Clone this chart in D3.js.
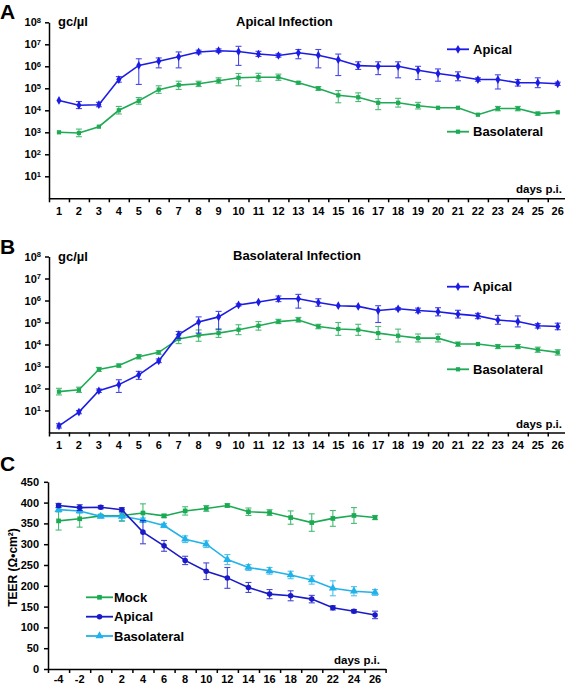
<!DOCTYPE html>
<html><head><meta charset="utf-8">
<script src="https://cdn.jsdelivr.net/npm/d3@7"></script>
<style>
body{margin:0;background:#fff}
svg{display:block}
text{font-family:"Liberation Sans",Arial,sans-serif;font-weight:bold;fill:#000}
</style>
</head><body>
<svg id="chart" width="565" height="685"></svg>
<script>
// ---------- DATA ----------
const daysAB = [1,2,3,4,5,6,7,8,9,10,11,12,13,14,15,16,17,18,19,20,21,22,23,24,25,26];
const logTicks = [1e1,1e2,1e3,1e4,1e5,1e6,1e7,1e8];

// Panel A: apical infection (gc/µl)
const aApical    = [2.8e4,1.7e4,1.8e4,2.5e5,1.1e6,1.7e6,2.7e6,4.5e6,5.1e6,4.7e6,3.6e6,3.1e6,4.1e6,3.2e6,2.0e6,1.07e6,1.0e6,1.0e6,6.6e5,4.7e5,3.5e5,2.5e5,2.5e5,1.8e5,1.8e5,1.6e5];
const aApicalLo  = [2.7e4,1.2e4,1.45e4,1.9e5,1.5e5,8.5e5,8.5e5,3.7e6,4.3e6,1.1e6,2.8e6,2.6e6,2.2e6,8.5e5,3.8e5,7.2e5,4.2e5,3.0e5,2.5e5,2.1e5,2.2e5,2.1e5,9.3e4,1.26e5,1.07e5,1.35e5];
const aApicalHi  = [2.9e4,2.5e4,2.3e4,3.4e5,2.2e6,2.4e6,4.5e6,5.4e6,6.2e6,8.1e6,4.8e6,3.7e6,5.8e6,5.8e6,3.6e6,1.6e6,1.6e6,1.6e6,1.0e6,7.6e5,5.6e5,3.0e5,4.1e5,2.5e5,3.0e5,1.9e5];
const aBaso      = [1.0e3,9.3e2,1.8e3,1.0e4,2.7e4,8.7e4,1.4e5,1.6e5,2.2e5,3.0e5,3.2e5,3.2e5,1.8e5,9.8e4,4.8e4,3.9e4,2.2e4,2.2e4,1.6e4,1.3e4,1.3e4,6.3e3,1.2e4,1.2e4,7.1e3,8.1e3];
const aBasoLo    = [1.0e3,6.3e2,1.65e3,6.8e3,1.9e4,5.9e4,8.9e4,1.2e5,1.7e5,1.3e5,2.1e5,2.3e5,1.55e5,8.1e4,2.2e4,2.5e4,1.07e4,1.4e4,1.15e4,1.3e4,1.3e4,6.3e3,9.5e3,9.5e3,6.0e3,8.1e3];
const aBasoHi    = [1.0e3,1.4e3,2.0e3,1.5e4,3.8e4,1.3e5,2.1e5,2.1e5,3.0e5,4.7e5,4.8e5,4.4e5,2.0e5,1.2e5,7.9e4,6.2e4,3.4e4,3.5e4,2.3e4,1.3e4,1.3e4,6.3e3,1.5e4,1.5e4,8.3e3,8.1e3];

// Panel B: basolateral infection (gc/µl)
const bApical    = [2.0,8.5,79,150,420,1800,2.8e4,1.05e5,1.8e5,6.3e5,8.5e5,1.2e6,1.2e6,8.1e5,5.8e5,5.4e5,3.5e5,4.2e5,3.5e5,3.1e5,2.4e5,2.0e5,1.3e5,1.1e5,7.1e4,6.6e4];
const bApicalLo  = [1.6,7.1,66,66,260,1500,1.9e4,3.3e4,4.7e4,5.6e5,7.8e5,8.9e5,4.5e5,5.5e5,5.2e5,4.9e5,1.0e5,3.7e5,2.8e5,2.0e5,1.6e5,1.5e5,8.3e4,6.3e4,5.6e4,4.7e4];
const bApicalHi  = [2.5,10,95,250,600,2200,3.9e4,1.8e5,3.2e5,7.1e5,9.3e5,1.6e6,1.9e6,1.2e6,6.3e5,5.9e5,5.8e5,4.7e5,4.5e5,4.7e5,3.6e5,2.6e5,2.1e5,2.0e5,8.9e4,9.3e4];
const bBaso      = [72,87,740,1100,2800,4400,1.8e4,2.6e4,3.3e4,4.7e4,7.1e4,1.1e5,1.3e5,6.6e4,5.1e4,4.7e4,3.3e4,2.5e4,1.95e4,1.95e4,1.05e4,1.05e4,8.1e3,8.1e3,5.8e3,4.4e3];
const bBasoLo    = [51,66,600,950,2200,3600,1.1e4,1.4e4,2.1e4,2.8e4,4.5e4,8.9e4,1.05e5,5.2e4,2.6e4,2.6e4,1.7e4,1.3e4,1.3e4,1.3e4,8.3e3,9.8e3,6.5e3,6.5e3,4.4e3,3.3e3];
const bBasoHi    = [102,115,910,1300,3500,5200,2.8e4,4.6e4,5.2e4,7.9e4,1.1e5,1.4e5,1.7e5,8.3e4,1.0e5,8.3e4,6.6e4,5.0e4,3.0e4,3.0e4,1.3e4,1.13e4,1.0e4,1.0e4,7.6e3,5.8e3];

// Panel C: TEER (Ω•cm²)
const daysC      = [-4,-2,0,2,4,6,8,10,12,14,16,18,20,22,24,26];
const teerTicks  = [0,50,100,150,200,250,300,350,400,450];
const cMock      = [356,361,368,369,375,368,380,386,393,378,376,364,352,362,369,364];
const cMockErr   = [22,20,3,14,22,4,10,7,4,9,7,16,21,19,19,5];
const cApical    = [393,388,389,383,329,296,261,235,219,196,180,176,168,147,139,130];
const cApicalErr = [5,7,4,5,28,13,10,20,25,12,11,12,9,5,4,9];
const cBaso      = [383,380,367,367,358,345,312,300,263,244,236,226,214,194,187,184];
const cBasoErr   = [5,5,3,10,5,5,8,8,12,7,8,9,10,18,11,7];

// ---------- DRAWING ----------
const svg = d3.select("#chart");
const BLUE = "#1c1ce4", GREEN = "#1faa55";
const C_MOCK = "#1aab52", C_API = "#1a1ac8", C_BASO = "#22b2ea";

function styleAxis(g, fs) {
  g.selectAll("path,line").attr("stroke","#000").attr("stroke-width",1.5);
  g.selectAll("text").attr("font-family",'"Liberation Sans",Arial,sans-serif')
    .attr("font-weight","bold").attr("font-size",fs).attr("fill","#000");
}

function series(g, x, y, cats, vals, lo, hi, color, symbol, symSize) {
  const line = d3.line().x((d,i)=>x(cats[i])).y(d=>y(d));
  const eb = g.append("g").attr("stroke",color).attr("stroke-width",1.1).attr("opacity",0.8);
  vals.forEach((v,i)=>{
    const cx = x(cats[i]), y1 = y(lo[i]), y2 = y(hi[i]);
    if (Math.abs(y1-y2) < 2) return;
    eb.append("line").attr("x1",cx).attr("x2",cx).attr("y1",y1).attr("y2",y2);
    eb.append("line").attr("x1",cx-3).attr("x2",cx+3).attr("y1",y1).attr("y2",y1);
    eb.append("line").attr("x1",cx-3).attr("x2",cx+3).attr("y1",y2).attr("y2",y2);
  });
  g.append("path").datum(vals).attr("d",line).attr("fill","none")
    .attr("stroke",color).attr("stroke-width",1.6);
  g.append("g").selectAll("path").data(vals).join("path")
    .attr("transform",(d,i)=>`translate(${x(cats[i])},${y(d)})`)
    .attr("d",d3.symbol().type(symbol).size(symSize)).attr("fill",color);
}

function legendItem(g, x1, x2, tx, yy, color, symbol, symSize, label) {
  g.append("line").attr("x1",x1).attr("x2",x2).attr("y1",yy).attr("y2",yy)
    .attr("stroke",color).attr("stroke-width",1.8);
  g.append("path").attr("transform",`translate(${(x1+x2)/2},${yy})`)
    .attr("d",d3.symbol().type(symbol).size(symSize)).attr("fill",color);
  g.append("text").attr("x",tx).attr("y",yy+4.6).attr("font-size",13).text(label);
}

function logPanel(cfg) {
  const g = svg.append("g");
  const x = d3.scaleBand().domain(daysAB).range([49, 49+26*19.95]).padding(0);
  const xc = d => x(d) + x.bandwidth()/2;
  const y = d3.scaleLog().domain([1,1e8]).range([cfg.y0, cfg.y0-176]);

  const ya = g.append("g").attr("transform","translate(49,0)")
    .call(d3.axisLeft(y).tickValues(logTicks).tickSize(4).tickSizeOuter(0).tickPadding(4).tickFormat(()=>""));
  styleAxis(ya, 11);
  ya.selectAll(".tick text").each(function(d){
    const t = d3.select(this);
    t.append("tspan").text("10");
    t.append("tspan").attr("dy","-0.45em").attr("font-size",7.5).text(Math.round(Math.log10(d)));
  });
  const xa = g.append("g").attr("transform",`translate(0,${cfg.y0})`)
    .call(d3.axisBottom(x).tickSize(0).tickPadding(9));
  styleAxis(xa, 11);
  xa.select(".domain").remove();
  const xl = d3.scaleLinear().domain([0,26]).range(x.range());
  const xt = g.append("g").attr("transform",`translate(0,${cfg.y0})`)
    .call(d3.axisBottom(xl).tickValues(d3.range(0,27)).tickSize(4).tickSizeOuter(0).tickFormat(()=>""));
  styleAxis(xt, 11);

  series(g, xc, y, daysAB, cfg.baso, cfg.basoLo, cfg.basoHi, GREEN, d3.symbolSquare, 18);
  series(g, xc, y, daysAB, cfg.api, cfg.apiLo, cfg.apiHi, BLUE, d3.symbolDiamond, 22);

  g.append("text").attr("x",0).attr("y",cfg.letterY).attr("font-size",21).text(cfg.letter);
  g.append("text").attr("x",58).attr("y",cfg.y0-172).attr("font-size",13).text("gc/µl");
  g.append("text").attr("x",cfg.titleX).attr("y",cfg.y0-172.5).attr("font-size",13).text(cfg.title);
  g.append("text").attr("x",562).attr("y",cfg.y0-5).attr("font-size",11.5).attr("text-anchor","end").text("days p.i.");
  legendItem(g, 447, 469, 473, cfg.legApiY, BLUE, d3.symbolDiamond, 22, "Apical");
  legendItem(g, 447, 469, 473, cfg.legBasoY, GREEN, d3.symbolSquare, 18, "Basolateral");
}

logPanel({y0:198.3, letter:"A", letterY:18.5, title:"Apical Infection", titleX:236,
  api:aApical, apiLo:aApicalLo, apiHi:aApicalHi, baso:aBaso, basoLo:aBasoLo, basoHi:aBasoHi,
  legApiY:49.3, legBasoY:131.7});
logPanel({y0:432.5, letter:"B", letterY:253.5, title:"Basolateral Infection", titleX:233,
  api:bApical, apiLo:bApicalLo, apiHi:bApicalHi, baso:bBaso, basoLo:bBasoLo, basoHi:bBasoHi,
  legApiY:286.7, legBasoY:369.3});

// Panel C
(function(){
  const g = svg.append("g");
  const x = d3.scaleBand().domain(daysC).range([48, 48+16*21.1]).padding(0);
  const xc = d => x(d) + x.bandwidth()/2;
  const y = d3.scaleLinear().domain([0,450]).range([669, 481.8]);
  const ya = g.append("g").attr("transform","translate(48,0)")
    .call(d3.axisLeft(y).tickValues(teerTicks).tickSize(4).tickSizeOuter(0).tickPadding(5));
  styleAxis(ya, 11);
  const xa = g.append("g").attr("transform","translate(0,669)")
    .call(d3.axisBottom(x).tickSize(0).tickPadding(6));
  styleAxis(xa, 11);
  xa.select(".domain").remove();
  const xl = d3.scaleLinear().domain([0,16]).range(x.range());
  const xt = g.append("g").attr("transform","translate(0,669)")
    .call(d3.axisBottom(xl).tickValues(d3.range(0,17)).tickSize(4).tickSizeOuter(0).tickFormat(()=>""));
  styleAxis(xt, 11);

  const lo = (v,e)=>v.map((d,i)=>d-e[i]), hi = (v,e)=>v.map((d,i)=>d+e[i]);
  series(g, xc, y, daysC, cMock, lo(cMock,cMockErr), hi(cMock,cMockErr), C_MOCK, d3.symbolSquare, 22);
  series(g, xc, y, daysC, cBaso, lo(cBaso,cBasoErr), hi(cBaso,cBasoErr), C_BASO, d3.symbolTriangle, 28);
  series(g, xc, y, daysC, cApical, lo(cApical,cApicalErr), hi(cApical,cApicalErr), C_API, d3.symbolCircle, 24);

  g.append("text").attr("x",0).attr("y",471).attr("font-size",21).text("C");
  g.append("text").attr("transform","translate(16.5,567.5) rotate(-90)").attr("text-anchor","middle")
    .attr("font-size",12).text("TEER (Ω•cm²)");
  g.append("text").attr("x",380).attr("y",664).attr("font-size",11.5).attr("text-anchor","end").text("days p.i.");
  legendItem(g, 86, 113, 114, 597.3, C_MOCK, d3.symbolSquare, 22, "Mock");
  legendItem(g, 86, 113, 114, 616.7, C_API, d3.symbolCircle, 24, "Apical");
  legendItem(g, 86, 113, 114, 636, C_BASO, d3.symbolTriangle, 28, "Basolateral");
})();
</script>
</body></html>
